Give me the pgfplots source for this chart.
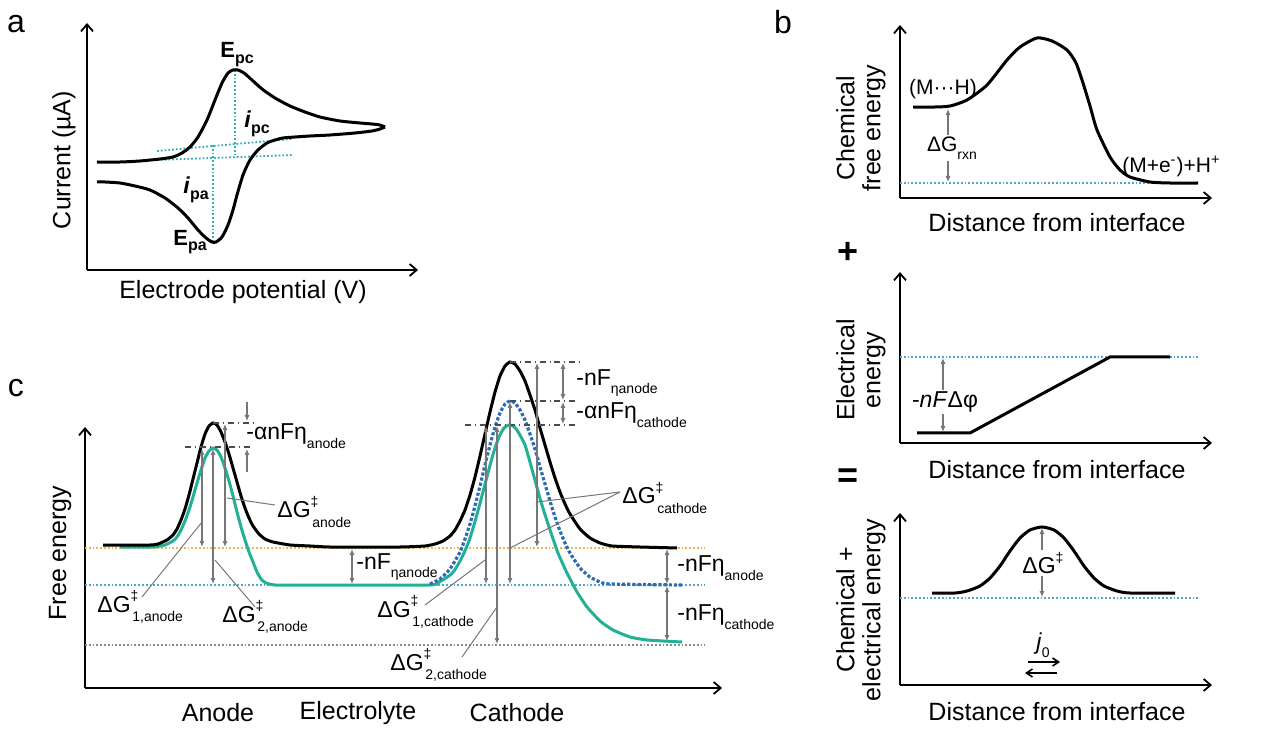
\documentclass[border=0pt]{standalone}
\usepackage{fontspec}
\setmainfont{Liberation Sans}
\usepackage{pgfplots}
\pgfplotsset{compat=1.18}
\usetikzlibrary{arrows.meta}

\definecolor{cvdot}{HTML}{38AEB4}
\definecolor{grn}{HTML}{22B194}
\definecolor{bdot}{HTML}{2D6BB2}
\definecolor{bline}{HTML}{4AA5DA}
\definecolor{oline}{HTML}{F0B54A}
\definecolor{gline}{HTML}{8A8A8A}
\definecolor{arr}{HTML}{777777}

\newcommand{\lab}{\fontsize{12.5}{13}\selectfont}
\newcommand{\ann}{\fontsize{11.5}{13}\selectfont}
\newcommand{\sann}{\fontsize{10.5}{12}\selectfont}
\newcommand{\ssz}{\fontsize{7}{8}\selectfont}
\newcommand{\sbs}[1]{\raisebox{-0.7ex}{\ssz #1}}
\newcommand{\dg}[1]{ΔG\rlap{\raisebox{0.95ex}{\ssz ‡}}\raisebox{-0.8ex}{\ssz\hspace{0.12em}#1}}

% one pixel of the reference = 0.5pt, y is minus the pixel row
\pgfplotsset{
  panel/.style={x=0.5pt, y=0.5pt, anchor=south west, axis lines=left, ticks=none,
    clip=false, enlargelimits=false,
    axis line style={line width=0.9pt, -{Straight Barb[length=3.5pt,width=6pt]}}},
}
\tikzset{
  garr/.style={arr, line width=0.7pt, {Latex[length=3pt,width=2.6pt]}-{Latex[length=3pt,width=2.6pt]}},
  lead/.style={arr, line width=0.5pt},
  ddot/.style={black!70, dash dot, line width=0.8pt},
  hdot/.style={densely dotted, line width=0.9pt},
}

\begin{document}
\begin{tikzpicture}
\path (0pt,0pt) rectangle (631.5pt,-362.5pt);

% ---------------- panel a
\begin{axis}[panel, xmin=87, xmax=418, ymin=-270, ymax=-23, at={(43.5pt,-135pt)}]
\addplot[cvdot, hdot] coordinates {(157,-151) (292,-139)};
\addplot[cvdot, hdot] coordinates {(157,-160) (293,-155)};
\addplot[cvdot, hdot] coordinates {(235,-70) (235,-157)};
\addplot[cvdot, hdot] coordinates {(213,-145) (213,-242)};
\addplot[black, line width=1.5pt, smooth, tension=0.4] coordinates {
 (97,-162) (120,-162) (140,-161) (160,-159) (173,-157) (182,-153) (190,-147) (198,-137)
 (207,-120) (215,-100) (222,-83) (228,-73) (233,-70) (238,-70) (244,-73) (252,-80)
 (262,-89) (275,-98) (290,-106) (305,-112) (320,-117) (340,-121) (360,-123) (372,-124)
 (380,-125) (385,-127)};
\addplot[black, line width=1.5pt, smooth, tension=0.4] coordinates {
 (385,-127) (380,-129) (372,-131) (355,-133) (330,-135) (310,-136) (295,-137) (283,-138)
 (275,-140) (267,-143) (258,-150) (250,-160) (243,-175) (237,-195) (233,-210) (228,-225)
 (222,-237) (216,-242) (212,-242) (206,-238) (198,-230) (188,-218) (178,-208) (165,-198)
 (150,-190) (135,-186) (120,-183) (105,-182) (97,-182)};
\node[font=\fontsize{16}{18}\selectfont] at (16,-24) {a};
\node[font=\lab] at (243,-292) {Electrode potential (V)};
\node[font=\lab, rotate=90] at (64,-160) {Current (µA)};
\node[font=\fontsize{11}{12}\selectfont\bfseries] at (237,-55) {E\raisebox{-0.5ex}{\fontsize{8}{9}\selectfont pc}};
\node[font=\fontsize{11}{12}\selectfont\bfseries] at (190,-242) {E\raisebox{-0.5ex}{\fontsize{8}{9}\selectfont pa}};
\node[font=\fontsize{11.5}{12}\selectfont\bfseries] at (257,-124) {\textit{i}\raisebox{-0.5ex}{\fontsize{8}{9}\selectfont pc}};
\node[font=\fontsize{11.5}{12}\selectfont\bfseries] at (196,-190) {\textit{i}\raisebox{-0.5ex}{\fontsize{8}{9}\selectfont pa}};
\end{axis}

% ---------------- panel b, chemical
\begin{axis}[panel, xmin=900, xmax=1212, ymin=-198, ymax=-25, at={(450pt,-99pt)}]
\addplot[bline, hdot] coordinates {(900,-183) (1200,-183)};
\addplot[black, line width=1.5pt, smooth, tension=0.4] coordinates {
 (913,-107) (935,-107) (950,-106) (967,-100) (987,-85) (1007,-60) (1020,-47) (1037,-38)
 (1052,-41) (1067,-50) (1076,-63) (1083,-83) (1090,-106) (1097,-130) (1110,-157)
 (1120,-170) (1130,-177) (1150,-182) (1170,-183) (1198,-183)};
\draw[garr] (948,-109) -- (948,-182);
\node[font=\sann, fill=white, inner sep=1pt] at (952,-148) {ΔG\sbs{rxn}};
\node[font=\sann] at (943,-89) {(M···H)};
\node[font=\sann, anchor=east, inner sep=0pt] at (1221,-166) {(M+e\textsuperscript{-})+H\textsuperscript{+}};
\node[font=\fontsize{16}{18}\selectfont] at (783,-22) {b};
\node[font=\lab] at (1057,-223) {Distance from interface};
\node[font=\lab, rotate=90, align=center] at (861,-128) {Chemical\\free energy};
\node[font=\fontsize{18}{18}\selectfont\bfseries] at (848,-253) {+};
\end{axis}

% ---------------- panel b, electrical
\begin{axis}[panel, xmin=900, xmax=1212, ymin=-443, ymax=-272, at={(450pt,-221.5pt)}]
\addplot[bline, hdot] coordinates {(900,-357) (1200,-357)};
\addplot[black, line width=1.5pt] coordinates {(917,-433) (970,-433) (1110,-357) (1170,-357)};
\draw[garr] (943,-358) -- (943,-432);
\node[font=\ann, fill=white, inner sep=1pt] at (945,-402) {-\textit{nF}Δφ};
\node[font=\lab] at (1057,-470) {Distance from interface};
\node[font=\lab, rotate=90, align=center] at (861,-370) {Electrical\\energy};
\node[font=\fontsize{18}{18}\selectfont\bfseries] at (848,-478) {=};
\end{axis}

% ---------------- panel b, sum
\begin{axis}[panel, xmin=900, xmax=1212, ymin=-685, ymax=-513, at={(450pt,-342.5pt)}]
\addplot[bline, hdot] coordinates {(900,-598) (1198,-598)};
\addplot[black, line width=1.5pt, smooth, tension=0.4] coordinates {
 (932,-593) (955,-593) (967,-591) (980,-586) (990,-578) (1000,-566) (1010,-551) (1020,-538)
 (1030,-530) (1042,-527) (1054,-530) (1064,-538) (1074,-551) (1084,-566) (1094,-578)
 (1104,-586) (1117,-591) (1130,-593) (1175,-593)};
\draw[garr] (1042,-528) -- (1042,-597);
\node[font=\ann, fill=white, inner sep=1pt] at (1043,-563) {ΔG\raisebox{0.9ex}{\ssz ‡}};
\node[font=\ann] at (1043,-645) {\textit{j}\sbs{0}};
\draw[black, line width=0.8pt, -{Straight Barb[length=3pt,width=4pt]}] (1028,-662) -- (1060,-662);
\draw[black, line width=0.8pt, -{Straight Barb[length=3pt,width=4pt]}] (1057,-673) -- (1025,-673);
\node[font=\lab] at (1057,-712) {Distance from interface};
\node[font=\lab, rotate=90, align=center] at (861,-610) {Chemical +\\electrical energy};
\end{axis}

% ---------------- panel c
\begin{axis}[panel, xmin=85, xmax=722, ymin=-688, ymax=-427, at={(42.5pt,-344pt)}]
\addplot[oline, hdot] coordinates {(85,-548) (705,-548)};
\addplot[bline, hdot] coordinates {(85,-585) (705,-585)};
\addplot[gline, hdot] coordinates {(85,-645) (705,-645)};
% green: with overpotential
\addplot[grn, line width=1.5pt, smooth, tension=0.3] coordinates {
 (120,-547) (153,-547) (165,-545) (173,-541) (177,-537) (181,-530) (185,-521) (189,-510)
 (193,-497) (197,-483) (201,-470) (205,-458) (209,-451) (213,-448) (217,-450) (221,-457)
 (225,-468) (229,-481) (233,-496) (237,-512) (241,-527) (245,-540) (249,-552) (253,-562)
 (257,-572) (261,-579) (266,-583) (275,-585) (300,-585) (429,-585) (439,-582) (449,-576)
 (454,-571) (459,-563) (464,-553) (469,-541) (474,-525) (479,-507) (484,-488) (489,-469)
 (494,-451) (499,-437) (504,-428) (509,-425) (513,-426) (517,-430) (525,-445) (533,-473)
 (541,-502) (550,-530) (558,-553) (567,-573) (577,-592) (587,-607) (600,-621) (613,-630)
 (630,-637) (647,-640) (682,-642)};
% blue dotted: cathode, intermediate
\addplot[bdot, densely dotted, line width=1.6pt, smooth, tension=0.3] coordinates {
 (430,-584) (440,-579) (450,-569) (460,-552) (465,-539) (470,-524) (475,-506) (480,-486)
 (485,-465) (490,-445) (495,-427) (500,-413) (505,-404) (510,-401) (515,-403) (520,-410)
 (525,-420) (530,-434) (535,-449) (540,-467) (545,-484) (550,-501) (555,-517) (560,-531)
 (565,-543) (570,-553) (580,-568) (590,-577) (600,-582) (610,-584) (682,-585)};
% black: equilibrium
\addplot[black, line width=1.5pt, smooth, tension=0.3] coordinates {
 (103,-545) (150,-545) (158,-544) (167,-540) (173,-535) (177,-529) (181,-520) (185,-509)
 (189,-495) (193,-479) (197,-463) (201,-447) (205,-434) (209,-426) (213,-423) (217,-425)
 (221,-432) (225,-442) (229,-454) (233,-468) (237,-482) (241,-496) (245,-508) (249,-518)
 (253,-526) (259,-534) (265,-539) (273,-542) (290,-545) (310,-546) (330,-547) (400,-547)
 (425,-546) (435,-544) (443,-541) (450,-536) (455,-530) (460,-521) (465,-510) (470,-495)
 (475,-477) (480,-456) (485,-434) (490,-412) (495,-392) (500,-376) (505,-366) (510,-362)
 (515,-364) (520,-371) (525,-381) (530,-395) (535,-410) (540,-428) (545,-445) (550,-462)
 (555,-478) (560,-492) (565,-504) (570,-514) (580,-529) (590,-538) (600,-543) (612,-546)
 (640,-547) (677,-548)};
% reference levels
\draw[ddot] (213,-423) -- (253,-423);
\draw[ddot] (185,-447) -- (253,-447);
\draw[ddot] (510,-362) -- (582,-362);
\draw[ddot] (510,-401) -- (577,-401);
\draw[ddot] (465,-425) -- (577,-425);
\draw[arr, line width=0.7pt, -{Latex[length=3pt,width=2.6pt]}] (247,-402) -- (247,-421);
\draw[arr, line width=0.7pt, -{Latex[length=3pt,width=2.6pt]}] (247,-472) -- (247,-449);
\node[font=\ann, anchor=west, inner sep=0pt] at (246,-436) {-αnFη\sbs{anode}};
% anode arrows
\draw[garr] (202,-449) -- (202,-547);
\draw[garr] (213,-449) -- (213,-584);
\draw[garr] (225,-424) -- (225,-547);
\draw[lead] (227,-498) -- (275,-505);
\node[font=\ann, anchor=west, inner sep=0pt] at (277,-512) {\dg{anode}};
\draw[lead] (202,-522) -- (142,-597);
\node[font=\ann, anchor=west, inner sep=0pt] at (97,-607) {\dg{1,anode}};
\draw[lead] (215,-560) -- (255,-607);
\node[font=\ann, anchor=west, inner sep=0pt] at (222,-617) {\dg{2,anode}};
% electrolyte
\draw[garr] (352,-549) -- (352,-584);
\node[font=\ann, anchor=west, inner sep=0pt] at (356,-567) {-nF\sbs{ηanode}};
% cathode arrows
\draw[garr] (563,-363) -- (563,-400);
\draw[garr] (563,-402) -- (563,-424);
\node[font=\ann, anchor=west, inner sep=0pt] at (576,-383) {-nF\sbs{ηanode}};
\node[font=\ann, anchor=west, inner sep=0pt] at (576,-415) {-αnFη\sbs{cathode}};
\draw[garr] (486,-426) -- (486,-584);
\draw[garr] (497,-426) -- (497,-644);
\draw[garr] (510,-402) -- (510,-584);
\draw[garr] (537,-363) -- (537,-547);
\draw[lead] (537,-502) -- (620,-492);
\draw[lead] (510,-548) -- (620,-492);
\node[font=\ann, anchor=west, inner sep=0pt] at (622,-498) {\dg{cathode}};
\draw[lead] (485,-560) -- (425,-605);
\node[font=\ann, anchor=west, inner sep=0pt] at (377,-612) {\dg{1,cathode}};
\draw[lead] (497,-607) -- (462,-657);
\node[font=\ann, anchor=west, inner sep=0pt] at (390,-665) {\dg{2,cathode}};
% right side
\draw[garr] (667,-549) -- (667,-584);
\draw[garr] (667,-586) -- (667,-641);
\node[font=\ann, anchor=west, inner sep=0pt] at (677,-568) {-nFη\sbs{anode}};
\node[font=\ann, anchor=west, inner sep=0pt] at (677,-617) {-nFη\sbs{cathode}};
% labels
\node[font=\fontsize{16}{18}\selectfont] at (16,-388) {c};
\node[font=\lab, rotate=90] at (60,-553) {Free energy};
\node[font=\lab] at (218,-713) {Anode};
\node[font=\lab] at (358,-713) {Electrolyte};
\node[font=\lab] at (517,-713) {Cathode};
\end{axis}
\end{tikzpicture}
\end{document}
